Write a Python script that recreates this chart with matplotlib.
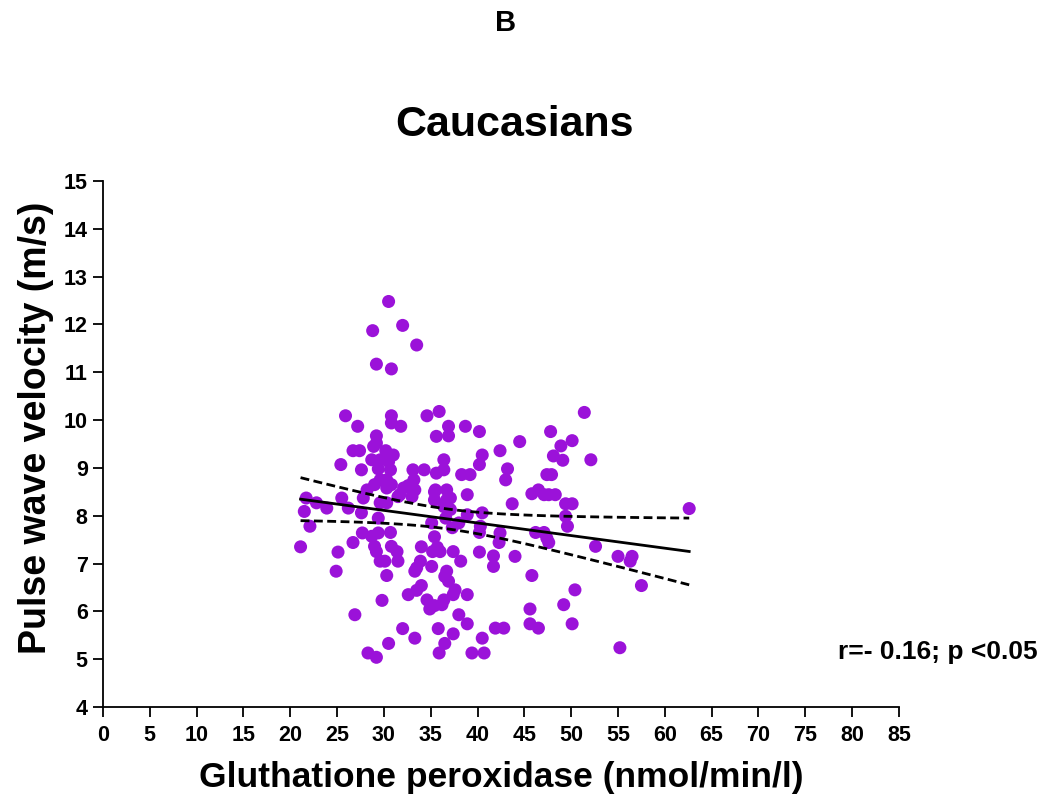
import numpy as np
import matplotlib
matplotlib.use("Agg")
import matplotlib.pyplot as plt

plt.rcParams['font.family'] = ['Liberation Sans', 'DejaVu Sans']
plt.rcParams['font.weight'] = 'bold'

# glutathione peroxidase (nmol/min/l) vs pulse wave velocity (m/s)
gpx = [
    30.5, 28.8, 32.0, 33.5, 29.2, 30.8, 25.9, 30.8, 34.6, 35.9,
    27.2, 30.8, 31.8, 29.2, 29.2, 26.7, 27.4, 28.9, 30.2, 31.0,
    28.7, 29.6, 30.5, 25.4, 29.4, 30.7, 27.6, 29.6, 30.3, 33.1,
    34.3, 33.2, 35.6, 35.6, 35.5, 30.3, 30.8, 32.1, 32.6, 33.3,
    31.7, 31.5, 33.0, 28.2, 27.8, 29.0, 29.6, 30.3, 25.5, 21.7,
    22.8, 23.9, 26.2, 27.6, 29.4, 21.5, 22.1, 35.1, 35.4, 35.4,
    21.1, 25.1, 24.9, 26.7, 27.7, 28.7, 29.4, 30.7, 29.0, 29.2,
    30.8, 31.4, 29.6, 30.1, 31.5, 30.3, 34.0, 35.2, 35.7, 35.1,
    33.9, 33.5, 33.3, 35.4, 29.8, 32.6, 33.5, 34.0, 34.6, 34.9,
    35.4, 26.9, 32.0, 33.3, 30.5, 28.3, 29.2, 35.8, 35.9,
    36.9, 36.9, 38.7, 40.2, 44.5, 42.4, 40.5, 40.2, 36.4, 36.4,
    43.2, 43.0, 38.3, 39.2, 47.8, 50.1, 48.9, 48.1, 49.1, 51.4,
    47.4, 47.9, 36.7, 37.1, 36.7, 38.9, 36.4, 37.1, 40.5, 38.9,
    43.7, 45.8, 46.5, 47.1, 47.6, 48.3, 49.4, 50.1, 49.4, 49.6,
    52.1, 40.3, 36.0, 37.4, 38.2, 36.7, 36.5, 36.9, 37.6, 37.4,
    36.4, 36.2, 38.9, 38.0, 38.9, 37.4, 36.5, 39.4, 40.7, 40.5,
    41.9, 42.8, 40.2, 41.7, 41.7, 42.4, 42.3, 44.0, 40.2, 45.8,
    46.2, 47.1, 47.4, 47.6, 45.6, 45.6, 46.5, 49.2, 50.4, 50.1,
    62.6, 52.6, 55.0, 56.5, 56.3, 57.5, 55.2, 36.6, 37.3, 38.0,
]
pwv = [
    12.48, 11.87, 11.98, 11.57, 11.17, 11.07, 10.09, 10.09, 10.09, 10.18,
    9.87, 9.94, 9.87, 9.67, 9.52, 9.36, 9.36, 9.45, 9.36, 9.27,
    9.17, 9.17, 9.13, 9.07, 8.98, 8.96, 8.96, 8.75, 8.75, 8.96,
    8.96, 8.75, 9.66, 8.89, 8.54, 8.58, 8.65, 8.58, 8.63, 8.54,
    8.44, 8.40, 8.40, 8.54, 8.37, 8.65, 8.27, 8.27, 8.37, 8.37,
    8.27, 8.16, 8.16, 8.06, 7.95, 8.09, 7.78, 7.85, 8.33, 8.50,
    7.35, 7.24, 6.84, 7.44, 7.64, 7.57, 7.64, 7.65, 7.36, 7.25,
    7.36, 7.25, 7.05, 7.05, 7.05, 6.75, 7.35, 7.25, 7.34, 6.94,
    7.05, 6.91, 6.84, 7.56, 6.23, 6.35, 6.44, 6.54, 6.24, 6.05,
    6.12, 5.93, 5.64, 5.44, 5.33, 5.13, 5.04, 5.64, 5.13,
    9.87, 9.67, 9.87, 9.76, 9.55, 9.36, 9.27, 9.07, 9.17, 8.96,
    8.98, 8.75, 8.86, 8.86, 9.76, 9.57, 9.46, 9.25, 9.16, 10.16,
    8.86, 8.86, 8.54, 8.37, 8.33, 8.44, 8.19, 8.13, 8.06, 8.02,
    8.25, 8.46, 8.54, 8.44, 8.44, 8.44, 8.25, 8.25, 7.99, 7.78,
    9.17, 7.78, 7.25, 7.25, 7.05, 6.84, 6.73, 6.63, 6.45, 6.35,
    6.24, 6.14, 6.35, 5.93, 5.74, 5.53, 5.33, 5.13, 5.13, 5.44,
    5.65, 5.65, 7.24, 7.16, 6.94, 7.64, 7.44, 7.15, 7.65, 6.75,
    7.65, 7.65, 7.53, 7.44, 6.05, 5.74, 5.65, 6.14, 6.45, 5.74,
    8.15, 7.36, 7.15, 7.15, 7.05, 6.54, 5.24, 7.95, 7.75, 7.85,
]
x_ticks = list(range(0, 90, 5))
y_ticks = list(range(4, 16))

x = np.array(gpx)
y = np.array(pwv)

# linear fit with 95% confidence band of the mean
n = len(x)
slope, intercept = np.polyfit(x, y, 1)
resid = y - (slope * x + intercept)
s = np.sqrt(np.sum(resid ** 2) / (n - 2))
xm = x.mean()
sxx = np.sum((x - xm) ** 2)
xf = np.linspace(x.min(), x.max(), 100)
yf = slope * xf + intercept
half = 1.97 * s * np.sqrt(1 / n + (xf - xm) ** 2 / sxx)

fig = plt.figure(figsize=(10.55, 8.05), dpi=100)
ax = fig.add_axes([0.0976, 0.1217, 0.7545, 0.6535])

ax.scatter(x, y, s=88, color='#9B12D9', edgecolors='none', zorder=2)
ax.plot(xf, yf, color='black', lw=2.0, zorder=3)
ax.plot(xf, yf + half, color='black', lw=2.0, ls=(0, (3.2, 1.6)), zorder=3)
ax.plot(xf, yf - half, color='black', lw=2.0, ls=(0, (3.2, 1.6)), zorder=3)

ax.set_xlim(0, 85)
ax.set_ylim(4, 15)
ax.set_xticks(x_ticks)
ax.set_yticks(y_ticks)
ax.spines['top'].set_visible(False)
ax.spines['right'].set_visible(False)
for sp in ('left', 'bottom'):
    ax.spines[sp].set_linewidth(1.3)
ax.tick_params(axis='both', direction='out', length=7, width=1.3, labelsize=15.5)
ax.tick_params(axis='x', pad=6)
ax.tick_params(axis='y', pad=4)
for lab in ax.get_xticklabels() + ax.get_yticklabels():
    lab.set_fontweight('bold')

ax.set_xlabel("Gluthatione peroxidase (nmol/min/l)", fontsize=25.5, fontweight='bold', labelpad=11)
ax.set_ylabel("Pulse wave velocity (m/s)", fontsize=27, fontweight='bold')
ax.yaxis.set_label_coords(-0.062, 0.53)

fig.text(0.479, 0.972, "B", fontsize=21, fontweight='bold', ha='center', va='center')
fig.text(0.488, 0.845, "Caucasians", fontsize=31, fontweight='bold', ha='center', va='center')
fig.text(0.984, 0.19, "r=- 0.16; p <0.05", fontsize=19, fontweight='bold', ha='right', va='center')

fig.savefig("out.png", dpi=100)
